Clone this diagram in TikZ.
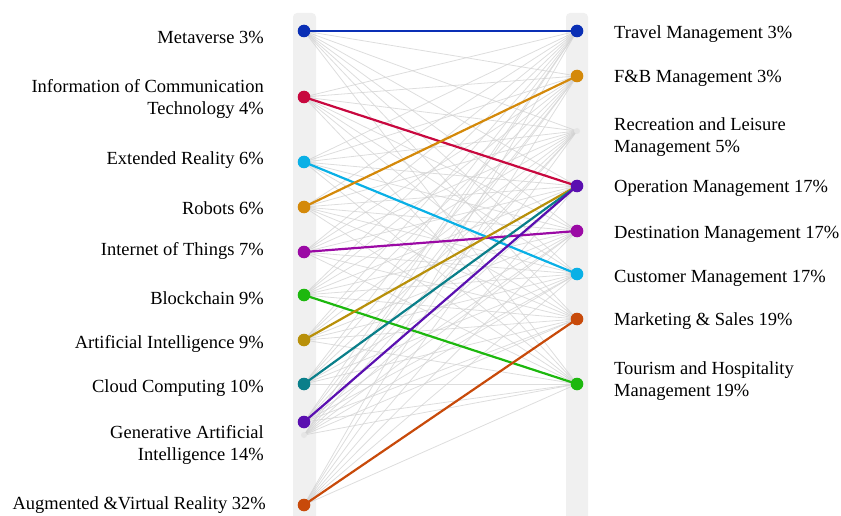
\documentclass[tikz,border=0pt]{standalone}
\usepackage{fontspec}
\setmainfont{Liberation Serif}
\usetikzlibrary{positioning}

\definecolor{cMeta}{HTML}{0A2FB5}
\definecolor{cIct}{HTML}{C8083F}
\definecolor{cXr}{HTML}{0AB0E6}
\definecolor{cRob}{HTML}{D4890A}
\definecolor{cIot}{HTML}{9B0AA5}
\definecolor{cBlock}{HTML}{1DB80E}
\definecolor{cAi}{HTML}{B8900A}
\definecolor{cCloud}{HTML}{0A7F8A}
\definecolor{cGen}{HTML}{5A0FB0}
\definecolor{cArvr}{HTML}{C84A0A}
\definecolor{cBar}{HTML}{F0F0F0}

\tikzset{
  bgline/.style={gray!35, line width=0.8pt, opacity=0.75},
  link/.style={line width=2.2pt},
  lab/.style={font=\fontsize{18.5}{22}\selectfont, inner sep=0pt},
  leftlab/.style={lab, anchor=east, align=right},
  rightlab/.style={lab, anchor=west, align=left},
}

\begin{document}
\begin{tikzpicture}[x=1pt,y=-1pt]
\useasboundingbox (0,0) rectangle (841,516);

% the two columns
\fill[cBar, rounded corners=4pt] (293,13) rectangle (316,530);
\fill[cBar, rounded corners=4pt] (566,13) rectangle (588,530);

% left points
\coordinate (L0) at (304,31);
\coordinate (L1) at (304,97);
\coordinate (L2) at (304,162);
\coordinate (L3) at (304,207);
\coordinate (L4) at (304,252);
\coordinate (L5) at (304,295);
\coordinate (L6) at (304,340);
\coordinate (L7) at (304,384);
\coordinate (L8) at (304,422);
\coordinate (L9) at (304,435);
\coordinate (L10) at (304,505);

% right points
\coordinate (R0) at (577,31);
\coordinate (R1) at (577,76);
\coordinate (R2) at (577,131);
\coordinate (R3) at (577,186);
\coordinate (R4) at (577,231);
\coordinate (R5) at (577,274);
\coordinate (R6) at (577,319);
\coordinate (R7) at (577,384);

% every pair, faint
\foreach \i in {0,...,10}
  \foreach \j in {0,...,7}
    \draw[bgline] (L\i) -- (R\j);

% highlighted pairs
\draw[link, cMeta] (L0) -- (R0);
\draw[link, cIct] (L1) -- (R3);
\draw[link, cXr] (L2) -- (R5);
\draw[link, cRob] (L3) -- (R1);
\draw[link, cIot] (L4) -- (R4);
\draw[link, cBlock] (L5) -- (R7);
\draw[link, cAi] (L6) -- (R3);
\draw[link, cCloud] (L7) -- (R3);
\draw[link, cGen] (L8) -- (R3);
\draw[link, cArvr] (L10) -- (R6);

% dots
\foreach \p/\c in {L0/cMeta, L1/cIct, L2/cXr, L3/cRob, L4/cIot, L5/cBlock,
                   L6/cAi, L7/cCloud, L8/cGen, L10/cArvr,
                   R0/cMeta, R1/cRob, R3/cGen, R4/cIot, R5/cXr, R6/cArvr, R7/cBlock}
  \fill[\c] (\p) circle (6.3pt);
\foreach \p in {L9,R2}
  \fill[gray!20] (\p) circle (3pt);

% left labels
\node[leftlab] (tl0) at (264,37) {Metaverse 3\%};
\node[leftlab] (tl1) at (264,99) {Information of Communication\\Technology 4\%};
\node[leftlab] (tl2) at (264,160) {Extended Reality 6\%};
\node[leftlab] (tl3) at (264,208) {Robots 6\%};
\node[leftlab] (tl4) at (264,251) {Internet of Things 7\%};
\node[leftlab] (tl5) at (264,298) {Blockchain 9\%};
\node[leftlab] (tl6) at (264,344) {Artificial Intelligence 9\%};
\node[leftlab] (tl7) at (264,388) {Cloud Computing 10\%};
\node[leftlab] (tl8) at (264,445) {Generative Artificial\\Intelligence 14\%};
\node[leftlab] (tl9) at (266,505) {Augmented \&Virtual Reality 32\%};

% right labels
\node[rightlab] (tr0) at (614,34) {Travel Management 3\%};
\node[rightlab] (tr1) at (614,78) {F\&B Management 3\%};
\node[rightlab] (tr2) at (614,137) {Recreation and Leisure\\Management 5\%};
\node[rightlab] (tr3) at (614,188) {Operation Management 17\%};
\node[rightlab] (tr4) at (614,234) {Destination Management 17\%};
\node[rightlab] (tr5) at (614,278) {Customer Management 17\%};
\node[rightlab] (tr6) at (614,321) {Marketing \& Sales 19\%};
\node[rightlab] (tr7) at (614,381) {Tourism and Hospitality\\Management 19\%};

\end{tikzpicture}
\end{document}
